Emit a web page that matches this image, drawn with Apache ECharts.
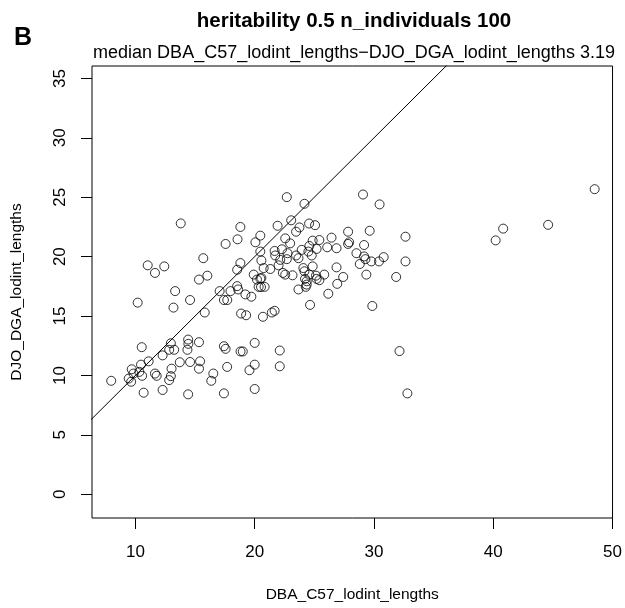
<!DOCTYPE html>
<html>
<head>
<meta charset="utf-8">
<script src="https://cdn.jsdelivr.net/npm/echarts@6/dist/echarts.min.js"></script>
<style>html,body{margin:0;padding:0;background:#fff}#c{width:625px;height:608px}</style>
</head>
<body>
<div id="c"></div>
<script>
const titleText = 'heritability 0.5 n_individuals 100';
const subtitleText = 'median DBA_C57_lodint_lengths\u2212DJO_DGA_lodint_lengths 3.19';
const panelLabel = 'B';
const xName = 'DBA_C57_lodint_lengths';
const yName = 'DJO_DGA_lodint_lengths';
const xTicks = [10, 20, 30, 40, 50];
const yTicks = [0, 5, 10, 15, 20, 25, 30, 35];
const xRange = [6.36, 50.0];
const yRange = [-2.0, 36.05];
// identity line y = x
const refLine = [[0, 0], [60, 60]];

const xs = [
 18.8,20.47,17.56,18.56,20.06,20.47,20.56,15.69,11.03,11.64,12.42,18.8,18.53,15.33,16.03,19.92,20.47,20.75,13.33,14.58,
 17.06,17.42,17.7,17.97,18.53,18.61,19.22,19.72,20.53,20.19,10.19,13.19,15.81,18.86,19.28,20.69,10.53,11.11,10.47,9.69,
 9.83,10.33,10.56,9.44,9.64,7.97,10.69,11.64,11.78,12.28,12.83,12.97,13.25,13.03,12.97,12.83,12.28,13.72,14.42,14.44,
 14.36,15.33,14.58,15.42,15.33,14.42,16.53,16.36,17.42,17.56,17.69,17.42,18.81,19.0,20.0,20.0,19.56,20.0,
 22.69,24.17,29.08,30.47,23.06,21.92,23.75,24.56,25.06,23.47,27.83,29.64,32.64,22.56,22.97,24.86,25.42,26.44,27.92,27.83,
 29.17,26.08,26.86,24.58,25.19,21.67,22.28,22.75,23.94,24.5,23.47,23.67,21.72,24.78,28.53,29.17,29.28,29.78,30.42,30.81,
 32.64,28.81,21.31,22.0,22.14,22.69,24.08,24.86,22.36,22.56,23.17,24.17,24.22,24.58,25.14,25.19,25.83,26.86,27.42,29.36,
 31.86,20.56,20.33,20.83,24.36,24.36,24.28,23.67,25.42,26.92,26.17,24.64,29.86,21.44,21.67,22.1,22.1,32.14,
 13.8,32.8,40.2,40.83,44.6,48.5
];
const ys = [
 22.5,21.77,21.07,21.46,21.21,20.43,19.68,19.87,19.27,18.63,19.18,19.46,18.9,18.07,18.4,18.49,18.15,19.04,17.1,16.35,
 17.1,16.35,16.35,17.1,17.52,17.24,16.82,16.63,17.44,18.07,16.13,15.71,15.3,15.21,15.07,14.94,12.38,11.19,10.91,10.52,
 10.16,10.3,9.97,9.74,9.47,9.55,8.55,10.16,9.97,11.69,12.16,12.71,12.16,10.57,9.94,9.61,8.78,11.11,13.02,12.66,
 12.16,12.8,11.13,11.19,10.57,8.41,10.16,9.55,12.46,12.24,10.72,8.49,12.02,12.02,12.74,10.91,10.44,8.86,
 25.01,24.45,25.23,24.4,23.06,22.6,22.46,22.79,22.65,22.1,22.1,22.18,21.68,21.54,21.12,21.35,21.4,21.6,21.21,21.07,
 20.98,20.79,20.71,20.9,20.65,20.48,20.62,20.29,20.57,20.43,20.1,19.87,20.1,20.1,20.29,20.02,19.79,19.6,19.6,19.96,
 19.6,19.38,18.96,19.27,19.73,19.79,19.04,19.18,18.63,18.49,18.43,18.77,18.13,18.49,18.4,18.13,18.49,19.1,18.29,18.49,
 18.29,18.21,17.46,17.46,17.93,17.65,17.46,17.24,18.02,17.71,16.88,15.94,15.85,15.3,15.44,12.1,10.77,12.05,
 22.8,8.49,21.37,22.36,22.68,25.68
];

const points = xs.map((x, i) => [x, ys[i]]);
const FONT = 'Liberation Sans';
const gridLeft = 92, gridTop = 66, gridW = 524, gridH = 457;
const cx = gridLeft + gridW / 2;

const chart = echarts.init(document.getElementById('c'), null, {renderer: 'canvas'});
chart.setOption({
  animation: false,
  backgroundColor: '#fff',
  textStyle: {fontFamily: FONT, color: '#000'},
  grid: {left: gridLeft, top: gridTop, width: gridW, height: gridH, show: true,
         borderColor: '#000', borderWidth: 1, backgroundColor: 'transparent', containLabel: false},
  graphic: [
    {type: 'text', x: cx, y: 21, style: {text: titleText, font: 'bold 20.5px "Liberation Sans"', fill: '#000', textAlign: 'center', textVerticalAlign: 'middle'}},
    {type: 'text', x: cx, y: 53, style: {text: subtitleText, font: '18px "Liberation Sans"', fill: '#000', textAlign: 'center', textVerticalAlign: 'middle'}},
    {type: 'text', x: 23, y: 38, style: {text: panelLabel, font: 'bold 25px "Liberation Sans"', fill: '#000', textAlign: 'center', textVerticalAlign: 'middle'}}
  ],
  xAxis: {
    type: 'value', min: xRange[0], max: xRange[1],
    name: xName, nameLocation: 'middle', nameGap: 69,
    nameTextStyle: {fontFamily: FONT, fontSize: 15.5, color: '#000'},
    axisLine: {show: false, onZero: false},
    axisTick: {show: true, length: 11, customValues: xTicks, lineStyle: {color: '#000', width: 1}},
    axisLabel: {customValues: xTicks, fontFamily: FONT, fontSize: 17, color: '#000', margin: 26},
    splitLine: {show: false}
  },
  yAxis: {
    type: 'value', min: yRange[0], max: yRange[1],
    name: yName, nameLocation: 'middle', nameGap: 67,
    nameTextStyle: {fontFamily: FONT, fontSize: 15.5, color: '#000'},
    axisLine: {show: false, onZero: false},
    axisTick: {show: true, length: 11, customValues: yTicks, lineStyle: {color: '#000', width: 1}},
    axisLabel: {customValues: yTicks, rotate: 90, fontFamily: FONT, fontSize: 17, color: '#000', margin: 23},
    splitLine: {show: false}
  },
  series: [
    {type: 'line', data: refLine, symbol: 'none', clip: true, silent: true,
     lineStyle: {color: '#000', width: 1}},
    {type: 'scatter', data: points, symbol: 'circle', symbolSize: 9, silent: true,
     itemStyle: {color: 'rgba(0,0,0,0)', borderColor: '#000', borderWidth: 1}}
  ]
});
</script>
</body>
</html>
